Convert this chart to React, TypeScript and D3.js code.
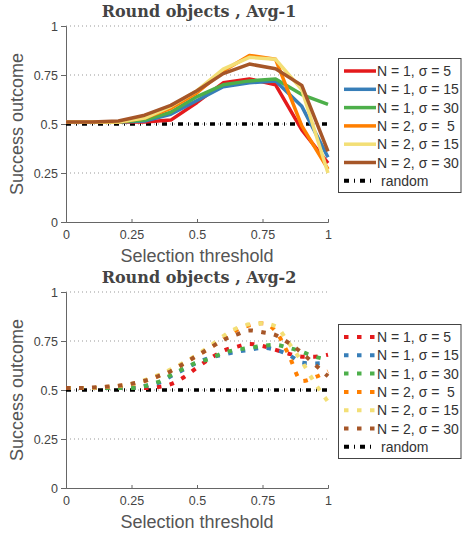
import React, {useEffect, useRef} from 'react';
import * as d3 from 'd3';

// series names + colours (shared by both panels)
const seriesNames = ['N = 1, σ = 5', 'N = 1, σ = 15', 'N = 1, σ = 30', 'N = 2, σ =  5', 'N = 2, σ = 15', 'N = 2, σ = 30'];
const seriesColors = ['#e41a1c', '#377eb8', '#4daf4a', '#ff7f00', '#f3df76', '#a65628'];

// Avg-1 : thresholds 0..1 step 0.1
const thresholds1 = [0, 0.1, 0.2, 0.3, 0.4, 0.5, 0.6, 0.7, 0.8, 0.9, 1];
const avg1N1s5 = [0.51, 0.51, 0.51, 0.51, 0.52, 0.61, 0.71, 0.73, 0.70, 0.47, 0.30];
const avg1N1s15 = [0.51, 0.51, 0.51, 0.515, 0.55, 0.62, 0.69, 0.71, 0.72, 0.59, 0.33];
const avg1N1s30 = [0.51, 0.51, 0.51, 0.52, 0.56, 0.64, 0.70, 0.72, 0.73, 0.65, 0.60];
const avg1N2s5 = [0.51, 0.51, 0.51, 0.53, 0.58, 0.66, 0.77, 0.85, 0.83, 0.49, 0.27];
const avg1N2s15 = [0.51, 0.51, 0.51, 0.53, 0.59, 0.67, 0.78, 0.84, 0.83, 0.675, 0.25];
const avg1N2s30 = [0.51, 0.51, 0.515, 0.545, 0.595, 0.67, 0.757, 0.806, 0.782, 0.697, 0.36];

// Avg-2 : thresholds 0..1 step 0.05
const thresholds2 = [0, 0.05, 0.1, 0.15, 0.2, 0.25, 0.3, 0.35, 0.4, 0.45, 0.5, 0.55, 0.6, 0.65, 0.7, 0.75, 0.8, 0.85, 0.9, 0.95, 1];
const avg2N1s5 = [0.51, 0.51, 0.51, 0.51, 0.51, 0.51, 0.51, 0.515, 0.53, 0.565, 0.615, 0.66, 0.70, 0.72, 0.735, 0.725, 0.705, 0.685, 0.67, 0.67, 0.68];
const avg2N1s15 = [0.51, 0.51, 0.51, 0.51, 0.51, 0.51, 0.52, 0.535, 0.57, 0.605, 0.64, 0.665, 0.68, 0.695, 0.705, 0.715, 0.705, 0.68, 0.64, 0.635, 0.64];
const avg2N1s30 = [0.51, 0.51, 0.51, 0.51, 0.51, 0.51, 0.52, 0.54, 0.575, 0.61, 0.64, 0.66, 0.69, 0.705, 0.715, 0.725, 0.73, 0.715, 0.695, 0.67, 0.655];
const avg2N2s5 = [0.51, 0.51, 0.51, 0.515, 0.52, 0.53, 0.545, 0.57, 0.60, 0.635, 0.675, 0.715, 0.76, 0.805, 0.83, 0.84, 0.80, 0.68, 0.545, 0.565, 0.595];
const avg2N2s15 = [0.51, 0.51, 0.51, 0.515, 0.52, 0.53, 0.55, 0.575, 0.605, 0.64, 0.68, 0.725, 0.775, 0.815, 0.835, 0.84, 0.825, 0.74, 0.645, 0.535, 0.44];
const avg2N2s30 = [0.51, 0.51, 0.513, 0.517, 0.522, 0.532, 0.547, 0.57, 0.596, 0.635, 0.675, 0.715, 0.755, 0.782, 0.804, 0.795, 0.78, 0.74, 0.69, 0.63, 0.57];

const randomLevel = 0.5;
const xTicks = [0, 0.25, 0.5, 0.75, 1];
const yTicks = [0, 0.25, 0.5, 0.75, 1];

const panels = [
  {title: 'Round objects , Avg-1', xs: thresholds1, series: [avg1N1s5, avg1N1s15, avg1N1s30, avg1N2s5, avg1N2s15, avg1N2s30], dashed: false},
  {title: 'Round objects , Avg-2', xs: thresholds2, series: [avg2N1s5, avg2N1s15, avg2N1s30, avg2N2s5, avg2N2s15, avg2N2s30], dashed: true},
];

const W = 462, H = 536;
const sans = '"Liberation Sans", Arial, sans-serif';

const App = () => {
  const ref = useRef<SVGSVGElement>(null);

  useEffect(() => {
    const svg = d3.select(ref.current);
    svg.selectAll('*').remove();

    const x = d3.scaleLinear().domain([0, 1]).range([66, 328]);

    panels.forEach((p, pi) => {
      const off = pi * 266;
      const y = d3.scaleLinear().domain([0, 1]).range([222, 26]);
      const g = svg.append('g').attr('transform', `translate(0, ${off})`);

      // title
      g.append('text')
        .attr('x', 199).attr('y', 17)
        .attr('text-anchor', 'middle')
        .style('font-family', '"DejaVu Serif", serif')
        .style('font-weight', 'bold')
        .style('font-size', '16px')
        .style('fill', '#444')
        .text(p.title);

      // dotted grid
      g.selectAll('.grid').data(yTicks.filter(t => t > 0)).enter()
        .append('line')
        .attr('x1', x(0)).attr('x2', x(1))
        .attr('y1', d => y(d)).attr('y2', d => y(d))
        .attr('stroke', '#999').attr('stroke-width', 1)
        .attr('stroke-dasharray', '1,3');

      // axes
      const yAxis = d3.axisLeft(y).tickValues(yTicks).tickSize(5).tickPadding(3).tickFormat(d => String(d));
      const xAxis = d3.axisBottom(x).tickValues(xTicks).tickSize(-3).tickPadding(8).tickFormat(d => String(d));
      const ya = g.append('g').attr('transform', `translate(${x(0)},0)`).call(yAxis);
      const xa = g.append('g').attr('transform', `translate(0,${y(0)})`).call(xAxis);
      [ya, xa].forEach(a => {
        a.select('.domain').attr('stroke', '#666');
        a.selectAll('.tick line').attr('stroke', '#666');
        a.selectAll('.tick text').style('font-family', sans).style('font-size', '12.5px').style('fill', '#444');
      });

      g.append('text')
        .attr('transform', `translate(23, ${y(0.5)}) rotate(-90)`)
        .attr('text-anchor', 'middle')
        .style('font-family', sans).style('font-size', '18px').style('fill', '#555')
        .text('Success outcome');
      g.append('text')
        .attr('x', 197).attr('y', 262)
        .attr('text-anchor', 'middle')
        .style('font-family', sans).style('font-size', '18px').style('fill', '#555')
        .text('Selection threshold');

      // random baseline
      g.append('line')
        .attr('x1', x(0)).attr('x2', x(1))
        .attr('y1', y(randomLevel)).attr('y2', y(randomLevel))
        .attr('stroke', '#000').attr('stroke-width', 3.5)
        .attr('stroke-dasharray', '5,5,1,5');

      // series
      const line = d3.line<number>()
        .x((d, i) => x(p.xs[i]))
        .y(d => y(d));
      if (p.dashed) line.curve(d3.curveMonotoneX);

      p.series.forEach((vals, si) => {
        g.append('path')
          .datum(vals)
          .attr('d', line)
          .attr('fill', 'none')
          .attr('stroke', seriesColors[si])
          .attr('stroke-width', p.dashed ? 4 : 3.5)
          .attr('stroke-linejoin', 'round')
          .attr('stroke-dasharray', p.dashed ? '4.5,8.5' : null);
      });

      // legend
      const lg = g.append('g');
      lg.append('rect')
        .attr('x', 338.5).attr('y', 58.5).attr('width', 122.5).attr('height', 134)
        .attr('fill', '#fff').attr('stroke', '#444').attr('stroke-width', 1);
      const rows = [...seriesNames, 'random'];
      rows.forEach((name, i) => {
        const ry = 71 + i * 18.3;
        const isRandom = i === rows.length - 1;
        lg.append('line')
          .attr('x1', 344).attr('x2', 376)
          .attr('y1', ry).attr('y2', ry)
          .attr('stroke', isRandom ? '#000' : seriesColors[i])
          .attr('stroke-width', p.dashed || isRandom ? 4 : 3.5)
          .attr('stroke-dasharray', isRandom ? '5,5,1,5' : (p.dashed ? '4.5,8.5' : null));
        lg.append('text')
          .attr('x', isRandom ? 381 : 377).attr('y', ry + 5)
          .style('font-family', sans).style('font-size', '14px').style('fill', '#333')
          .style('white-space', 'pre')
          .text(name);
      });
    });
  }, []);

  return (
    <svg ref={ref} width={W} height={H}
      style={{position: 'absolute', left: 0, top: 0, background: '#fff'}} />
  );
};

export default App;
